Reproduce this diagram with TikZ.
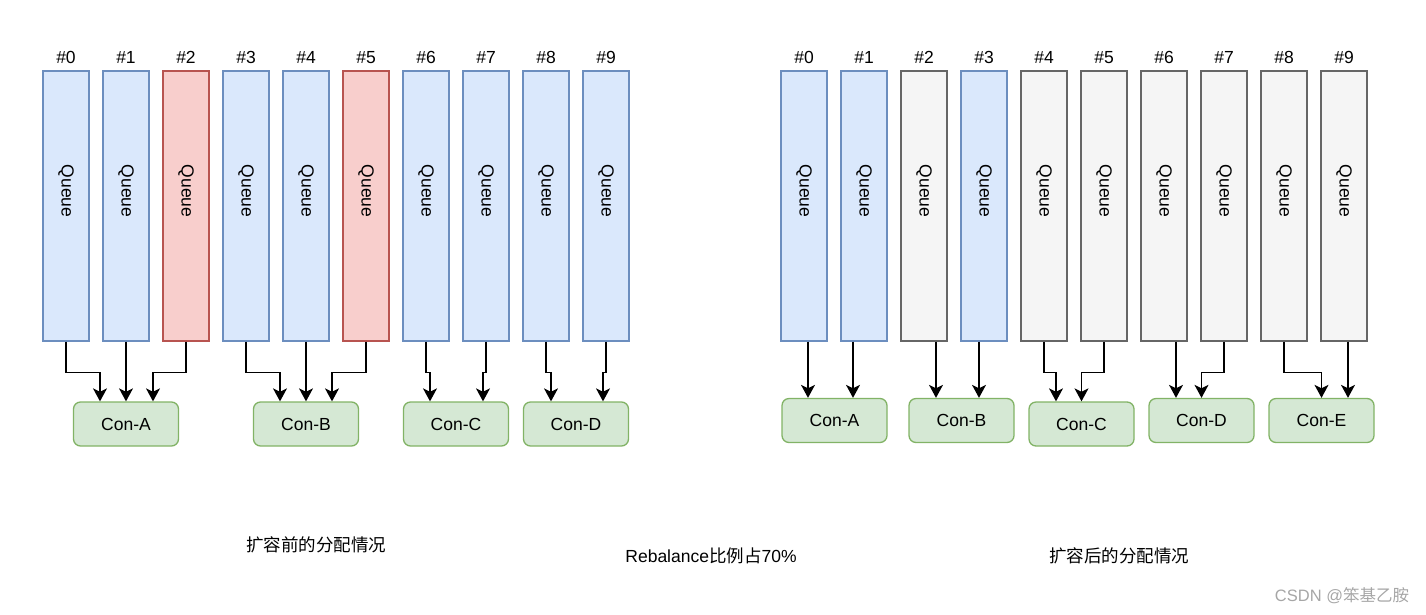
\documentclass[tikz,border=0pt]{standalone}
\usepackage{fontspec}
\setmainfont{Liberation Sans}
\newfontfamily\cjk{Noto Sans CJK SC}
\usetikzlibrary{arrows.meta}
\definecolor{qblueF}{HTML}{DAE8FC}
\definecolor{qblueD}{HTML}{6C8EBF}
\definecolor{qredF}{HTML}{F8CECC}
\definecolor{qredD}{HTML}{B85450}
\definecolor{qgrayF}{HTML}{F5F5F5}
\definecolor{qgrayD}{HTML}{666666}
\definecolor{cgreenF}{HTML}{D5E8D4}
\definecolor{cgreenD}{HTML}{82B366}
\tikzset{
  queue/.style={draw, line width=1.3pt, minimum width=46pt, minimum height=270pt, inner sep=0pt},
  qblue/.style={queue, fill=qblueF, draw=qblueD},
  qred/.style={queue, fill=qredF, draw=qredD},
  qgray/.style={queue, fill=qgrayF, draw=qgrayD},
  qtext/.style={rotate=-90, inner sep=0pt, font=\fontsize{17.5}{20}\selectfont},
  qnum/.style={inner sep=0pt, text height=12.5pt, text depth=0pt, font=\fontsize{17.5}{20}\selectfont},
  cons/.style={draw=cgreenD, fill=cgreenF, line width=1.3pt, rounded corners=7pt, minimum width=105pt, minimum height=44pt, inner sep=0pt, font=\fontsize{17.5}{20}\selectfont},
  arr/.style={draw=black, line width=1.5pt, -{Stealth[length=13pt,width=14pt,inset=3.5pt]}},
  caption/.style={inner sep=0pt, font=\fontsize{17.5}{20}\selectfont},
}
\begin{document}
\begin{tikzpicture}[x=1pt,y=-1pt]
\useasboundingbox (0,0) rectangle (1426,614);
% left queues
\foreach \i/\st in {0/qblue,1/qblue,2/qred,3/qblue,4/qblue,5/qred,6/qblue,7/qblue,8/qblue,9/qblue}{
  \node[\st] (L\i) at ({66+60*\i},206) {};
  \node[qtext] (LT\i) at ({66+60*\i},191) {Queue};
  \node[qnum] (LN\i) at ({66+60*\i},57) {\#\i};
}
% right queues
\foreach \i/\st in {0/qblue,1/qblue,2/qgray,3/qblue,4/qgray,5/qgray,6/qgray,7/qgray,8/qgray,9/qgray}{
  \node[\st] (R\i) at ({804+60*\i},206) {};
  \node[qtext] (RT\i) at ({804+60*\i},191) {Queue};
  \node[qnum] (RN\i) at ({804+60*\i},57) {\#\i};
}
% left consumers
\node[cons] (CA) at (126,424) {Con-A};
\node[cons] (CB) at (306,424) {Con-B};
\node[cons] (CC) at (456,424) {Con-C};
\node[cons] (CD) at (576,424) {Con-D};
% right consumers
\node[cons] (DA) at (834.5,420.5) {Con-A};
\node[cons] (DB) at (961.5,420.5) {Con-B};
\node[cons] (DC) at (1081.5,424) {Con-C};
\node[cons] (DD) at (1201.5,420.5) {Con-D};
\node[cons] (DE) at (1321.5,420.5) {Con-E};
% left arrows
\draw[arr] (L0.south) -- ++(0,31) -| ([xshift=-26]CA.north);
\draw[arr] (L1.south) -- (CA.north);
\draw[arr] (L2.south) -- ++(0,31) -| ([xshift=27]CA.north);
\draw[arr] (L3.south) -- ++(0,31) -| ([xshift=-26]CB.north);
\draw[arr] (L4.south) -- (CB.north);
\draw[arr] (L5.south) -- ++(0,31) -| ([xshift=26]CB.north);
\draw[arr] (L6.south) -- ++(0,31) -| ([xshift=-26]CC.north);
\draw[arr] (L7.south) -- ++(0,31) -| ([xshift=27]CC.north);
\draw[arr] (L8.south) -- ++(0,31) -| ([xshift=-25]CD.north);
\draw[arr] (L9.south) -- ++(0,31) -| ([xshift=27]CD.north);
% right arrows
\draw[arr] ([xshift=4]R0.south) -- ([xshift=4]R0.south |- DA.north);
\draw[arr] ([xshift=-11]R1.south) -- ([xshift=-11]R1.south |- DA.north);
\draw[arr] ([xshift=12]R2.south) -- ([xshift=12]R2.south |- DB.north);
\draw[arr] ([xshift=-5]R3.south) -- ([xshift=-5]R3.south |- DB.north);
\draw[arr] (R4.south) -- ++(0,31) -| ([xshift=-25.5]DC.north);
\draw[arr] (R5.south) -- ++(0,31) -| (DC.north);
\draw[arr] ([xshift=12]R6.south) -- ([xshift=12]R6.south |- DD.north);
\draw[arr] (R7.south) -- ++(0,31) -| (DD.north);
\draw[arr] (R8.south) -- ++(0,31) -| (DE.north);
\draw[arr] ([xshift=4]R9.south) -- ([xshift=4]R9.south |- DE.north);
% captions
\node[caption] (cap1) at (316,545) {\cjk 扩容前的分配情况};
\node[caption] (cap2) at (711,556) {Rebalance{\cjk 比例占}70\%};
\node[caption] (cap3) at (1119,556) {\cjk 扩容后的分配情况};
\node[inner sep=0pt, text=black!35, font=\fontsize{16.5}{20}\selectfont] (wm) at (1342,596) {CSDN @{\cjk 笨基乙胺}};
\end{tikzpicture}
\end{document}
